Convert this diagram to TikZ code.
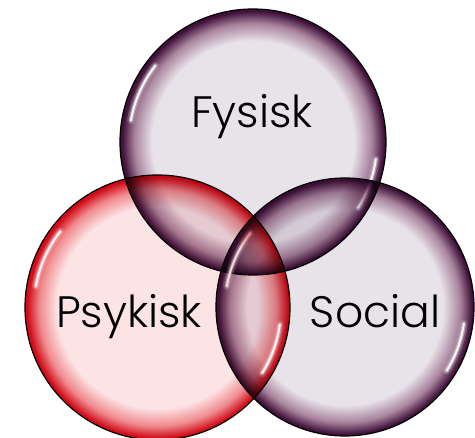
\documentclass[tikz,border=0pt]{standalone}
\usepackage{fontspec}
\setmainfont{Poppins Light}
\usetikzlibrary{calc}

\definecolor{plumin}{HTML}{E8E3E9}
\definecolor{plummid}{HTML}{A9849E}
\definecolor{plumedge}{HTML}{40123A}
\definecolor{redin}{HTML}{FCE4E5}
\definecolor{redmid}{HTML}{F08A8E}
\definecolor{rededge}{HTML}{D00C18}

% glossy bubble fills: flat centre, darker rim towards the edge
\pgfdeclareradialshading{bubbleplum}{\pgfpoint{0bp}{0bp}}{%
  color(0bp)=(plumin); color(19bp)=(plumin); color(22.3bp)=(plummid);
  color(24.6bp)=(plumedge); color(25bp)=(plumedge); color(50bp)=(plumedge)}
\pgfdeclareradialshading{bubblered}{\pgfpoint{0bp}{0bp}}{%
  color(0bp)=(redin); color(19bp)=(redin); color(22.3bp)=(redmid);
  color(24.6bp)=(rededge); color(25bp)=(rededge); color(50bp)=(rededge)}

\begin{document}
\begin{tikzpicture}[
  x=1pt, y=1pt,
  bubble/.style={circle, inner sep=0pt, minimum size=#1, draw=black, line width=1.2pt},
  glosscore/.style={draw=white, line cap=round, line width=2pt, opacity=0.9},
  glossmid/.style={draw=white, line cap=round, line width=4.5pt, opacity=0.35},
  glosshalo/.style={draw=white, line cap=round, line width=8pt, opacity=0.15},
  label/.style={font=\fontsize{44}{44}\selectfont, text=black, anchor=base, inner sep=0pt}]
\useasboundingbox (0,0) rectangle (475,438);

% a soft white streak: centre #1, radius #2, angles #3 to #4
\newcommand\glossstreak[4]{%
  \foreach \sty in {glosshalo,glossmid,glosscore}
    \draw[\sty] ($(#1)+(#3:#2)$) arc[start angle=#3, end angle=#4, radius=#2];
}

% one bubble: multiplied fill and outline, then two gloss streaks
\newcommand\glossbubble[5]{%
  \begin{scope}[blend mode=multiply]
    \node[bubble=#4*2pt, shading=#5] (#1) at (#2,#3) {};
  \end{scope}
  \glossstreak{#1.center}{#4pt-9pt}{142}{170}
  \glossstreak{#1.center}{#4pt-9pt}{-32}{-8}
}

\glossbubble{fysisk}{253}{296}{133}{bubbleplum}
\glossbubble{social}{345}{131}{129}{bubbleplum}
\glossbubble{psykisk}{157.5}{130.5}{132.5}{bubblered}

\node[label] (tfysisk)  at (252,310) {Fysisk};
\node[label] (tpsykisk) at (129,110) {Psykisk};
\node[label] (tsocial)  at (375,110) {Social};
\end{tikzpicture}
\end{document}
